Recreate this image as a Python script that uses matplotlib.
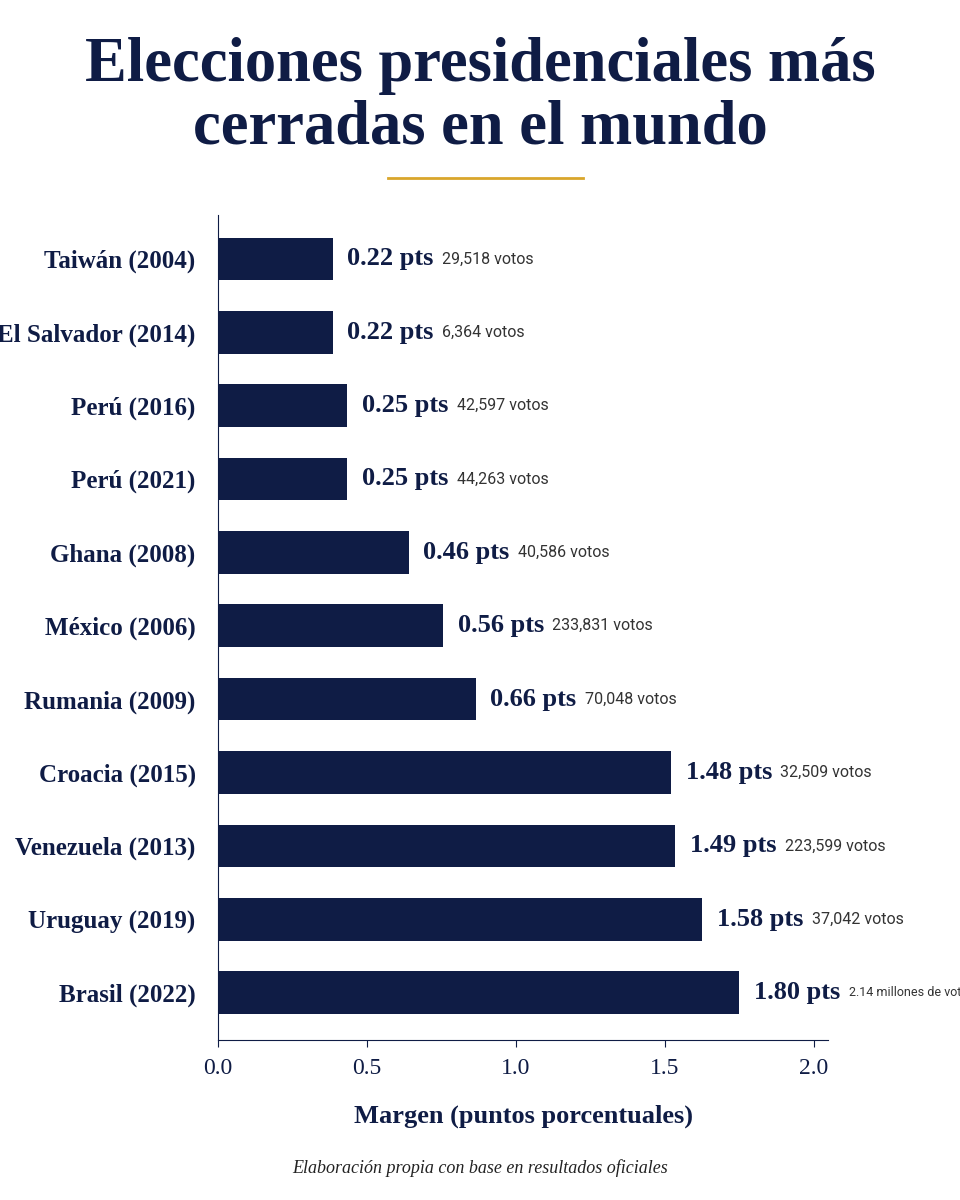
import matplotlib.pyplot as plt

countries = ["Taiwán (2004)", "El Salvador (2014)", "Perú (2016)", "Perú (2021)", "Ghana (2008)",
             "México (2006)", "Rumania (2009)", "Croacia (2015)", "Venezuela (2013)",
             "Uruguay (2019)", "Brasil (2022)"]
# bar lengths as drawn in the picture
bar_len = [0.385, 0.385, 0.435, 0.435, 0.64, 0.755, 0.865, 1.52, 1.535, 1.625, 1.75]
pts_labels = ["0.22 pts", "0.22 pts", "0.25 pts", "0.25 pts", "0.46 pts", "0.56 pts", "0.66 pts",
              "1.48 pts", "1.49 pts", "1.58 pts", "1.80 pts"]
votos = ["29,518 votos", "6,364 votos", "42,597 votos", "44,263 votos", "40,586 votos",
         "233,831 votos", "70,048 votos", "32,509 votos", "223,599 votos", "37,042 votos",
         "2.14 millones de votos"]

navy = "#0f1c45"
serif = "Liberation Serif"

fig = plt.figure(figsize=(9.6, 12), dpi=100)
ax = fig.add_axes([0.227, 0.133, 0.636, 0.688])

y = list(range(len(countries)))
ax.barh(y, bar_len, height=0.58, color=navy)
ax.invert_yaxis()
ax.set_ylim(len(countries) - 0.35, -0.6)
ax.set_xlim(0, 2.05)
ax.set_xticks([0, 0.5, 1.0, 1.5, 2.0])
ax.set_xticklabels(["0.0", "0.5", "1.0", "1.5", "2.0"], family=serif, fontsize=17, color=navy)
ax.set_yticks(y)
ax.set_yticklabels(countries, family=serif, fontsize=18, color=navy, fontweight="semibold")
ax.tick_params(axis="y", length=0, pad=16)
ax.tick_params(axis="x", colors=navy, length=5, pad=8)
for s in ["top", "right"]:
    ax.spines[s].set_visible(False)
ax.spines["left"].set_color(navy)
ax.spines["bottom"].set_color(navy)
ax.set_xlabel("Margen (puntos porcentuales)", family=serif, fontsize=19, color=navy,
              labelpad=18, fontweight="semibold")

for yi, b, p, v in zip(y, bar_len, pts_labels, votos):
    t = ax.text(b + 0.05, yi, p, va="center", ha="left", family=serif, fontsize=19,
                fontweight="bold", color=navy)
    fs = 9 if len(v) > 15 else 11.5
    ax.annotate(v, xy=(1, 0.5), xycoords=t, xytext=(6, 0), textcoords="offset points",
                va="center", ha="left", fontsize=fs, color="#333333", family="Roboto",
                fontstretch="condensed")

fig.text(0.5, 0.945, "Elecciones presidenciales más", ha="center", va="center", family=serif,
         fontsize=45, fontweight="bold", color=navy)
fig.text(0.5, 0.893, "cerradas en el mundo", ha="center", va="center", family=serif,
         fontsize=45, fontweight="bold", color=navy)
fig.add_artist(plt.Line2D([388 / 960, 583 / 960], [1 - 178 / 1200] * 2, color="#d9a62b", lw=2))
fig.text(0.5, 1 - 1168 / 1200, "Elaboración propia con base en resultados oficiales", ha="center",
         va="center", family=serif, style="italic", fontsize=13, color="#222222")

fig.savefig("out.png", dpi=100, facecolor="white")
